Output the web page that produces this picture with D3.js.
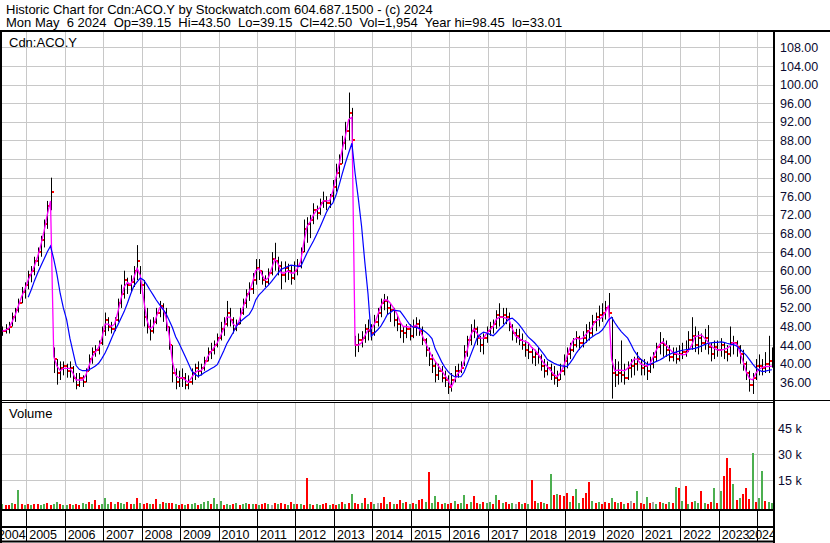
<!DOCTYPE html>
<html><head><meta charset="utf-8">
<script src="https://cdn.jsdelivr.net/npm/d3@7"></script>
<style>html,body{margin:0;padding:0;background:#fff;} svg{display:block;font-family:"Liberation Sans",Arial,sans-serif;} text.pre{white-space:pre;}</style>
</head><body><svg id="c" width="830" height="543"></svg>
<script>
// Monthly data, May 2004 .. May 2024
const lo=[46,46.5,46.5,48,49,51,53,54,
56,57.5,59,61,63,65,69,73,38,35.5,36.5,37.5,
37,37,36,34.5,35,35,36,38.5,40,41.5,42,44,
46,47,46.5,47,49,52,54,55,55.5,56.5,58,55,
48,46.5,45,46.5,48.5,50,49,47,43,36,34.5,35,
35,34.5,34.5,35.5,36.5,37,37.5,38.5,40.5,41,42,43.5,
45,46,48,48,46.5,47,48.5,50.5,52,53.5,55,57,
58,57,56.5,57,59,60,59,56,57.5,58,57,58,
59,60.5,64,66,67,70,71,72,73.5,73,73.5,75,
77,80,83,86,88,86,41.5,42.5,43.5,44.5,45,45,
46,48,50,51.5,50.5,49,48,47,45.5,44.5,45.5,45,
45.5,46,46,44,41.5,39.5,38,36,36.5,36,35,33.5,
34,36,37,38,39.5,41.5,44,45.5,44,42.5,42,44.5,
46,46.5,47.5,48,48.5,48.5,47,45,44.5,44,43,41.5,
41,40,39.5,40,38.5,37,37.5,36.5,35.5,35,36.5,37.5,
39,41,42.5,43.5,43,43.5,44.5,45,46,47,48,49,
49.5,50,32.5,35,35.5,36,35.5,36.5,37,37.5,38.5,37.5,
37.5,36.5,38,39,40.5,42,41.5,41.5,40.5,40.5,40,40.5,
41,41.5,42.5,43,42.5,42,42.5,43,42,40.5,41,41.5,
41.5,41,40.5,41.5,42,41.5,40,38.5,36.5,34,33.5,36.5,
37.5,37.5,38,38,39.15];
const hi=[48,48.5,49,51,52,54,56.5,57.5,
60,61,63,65,67.5,71,75,80,43.5,41,40.5,40.5,
40,40.5,39.5,38,38,37.5,39,42,43.5,44,45,48,
51,50,49,50,54,57,60,58.5,59,61,65.5,61,
58,52,49.5,50,52,53.5,53,52,48,44,39,38.5,
39,38,37.5,39,40,40.5,40,41.5,43.5,44.5,45,46.5,
49,50,53.5,52,50,49.5,52,54,56,57.5,59.5,62.5,
62.5,60,59,60.5,64,66,63,62,62,61.5,61,62,
62.5,65,71,71.5,72,74.5,74,75.5,77,76,76.5,79.5,
83,85,89,92,98.3,95,46,46.5,47,48.5,49.5,48.5,
50.5,52,54,55,54.5,53,52,50.5,49,48,48.5,48.5,
49.5,50,49.5,48,45.5,43.5,42,40.5,40,39.5,38.5,37.5,
38,39.5,40,40.5,44,46,48.5,49.5,48,46,46.5,48,
49,49.5,51.5,53,52,52,51,48.5,47.5,47.5,46.5,45,
44.5,43.5,43,43.5,42,41,40.5,40,39.5,38.5,40,42,
43.5,44.5,45.5,47,46,47,48.5,49,50.5,51,52.5,53,
53.5,55.2,50,41,40.5,45,40,40.5,41,41.5,42.5,41,
41,40.5,41.5,42.5,44.5,46.8,45.5,45,44,43.5,43.5,44,
44.5,45,47,50,48,47,46.5,47.5,48.3,44.5,45,45,
45.5,44.5,44,48,46,45,44,43,40.5,38.5,38,41,
42,41,42.5,46,43.5];
const cl=[47,47.5,48,50,51.5,53,55.5,57,
59,60,62,64,66.5,70,74,77,41,38,39,39.5,
38.5,39,37,35.5,37,36,38.5,41,42.5,43,44.5,47,
49.5,48,47.5,49.5,53,55,58,57,57.5,60,62,57,
50,48,47,49,51,52.5,51,48,44,38,36,37,
37,35.5,36,38,39,38.5,39,40.5,42.5,43,44,45.5,
47.5,48.5,51,49.5,47.5,48.5,51,53,55,56,58,60.5,
60,58,57.5,59.5,62.5,62,61,59,60.5,60,58.5,60,
61,64,69,70,71,73,72.5,74.5,75,74.5,76,78,
81,83,87.5,90,94,88,44,45,45.5,47.5,47,46.5,
49,51,53,53.5,52,51.5,49.5,48.5,47,46.5,47.5,46,
48,48.5,47,45,43,41,39.5,37.5,38.5,37,36.5,35,
36.5,38.5,38.5,39,42.5,45,47,47.5,45.5,44,45.5,47,
48,48.5,50.5,50,50.5,50,48,46.5,46,45,44,43,
42.5,41.5,42,41.5,39.5,38.5,39,37.5,37,36.5,38.5,40.5,
42,43,44,45.5,44.5,45.5,47,46.5,49,50,50.5,51,
52,51,38,37.5,38,37.5,37,39,39.5,40,41,39,
39.5,38.5,40,41.5,43.5,44.5,44,43,41.5,42,41,42,
42.5,43,45,46,44,45.5,44.5,45.5,43.5,42,43.5,43,
44,42.5,42,44.5,44.5,43.5,42,40,38,35.5,37,39.5,
39.5,39,40,40.5,42.5];
// short moving average (magenta), May 2004 .. May 2024
const ma1=[47,47.2,47.6,49,50.5,52.5,54.5,56,
58,59.5,61,63,65.5,68.5,72,75,41.5,39.5,38.5,39,
39,39,38,36.5,36.5,36.5,37.5,39.5,41.5,42.5,43.5,45.5,
48.5,48.5,48,48.5,51,54,56.5,57.5,57,58.5,60.5,59,
54,49.5,47.5,48,50,52,52,50,46,40.5,37.5,37,
37,36.5,36,37,38,38.5,38.5,39.5,41.5,42.5,43.5,44.5,
46,47.5,50,50,48.5,48,49.5,52,54,55.5,57.5,60,
60.5,59,58,58.5,60.5,62.5,61.5,59.5,59.5,60,59.5,59.5,
60.5,62,66,69.5,70.5,72,73,73.5,75,75,75,77,
80,83,86,89,92.5,93,44,44,44.5,46,47.2,47.5,
48.5,50.5,52.3,53.7,53.7,53,52,50.8,49,48,48,47.8,
48,48.3,47.5,46,44.5,43,41.5,40.5,39.5,38.5,37.5,36.5,
35,36.5,37.8,38.6,40.5,43,46,47.5,46.5,45.5,45.5,46.5,
47.3,48,49.5,50,50,49.8,49.5,47.5,46,45.5,45,44.8,
44.5,43.5,43,42.2,41,40,39.4,38.5,37.7,37.2,38,39.4,
41.5,43.5,45,45.5,45.3,45.5,46.3,47,48,49.2,49.5,50,
51,52.5,41,38.5,38.6,38.6,38.5,39,40,41,41,40,
39.7,39.5,40,41.5,43,44.2,44.7,44,43.2,42.5,42.2,42,
41.9,42,42.8,44,45.8,46,46.2,45.5,44.7,43.8,43.3,43,
42.9,43.1,43.3,43.8,44.6,44.2,42.5,40.5,38.2,36.8,36.5,38,
38.8,39.2,39.4,39.4,39.5];
// long moving average (blue), Jan 2005 .. May 2024
const ma2=[54.3,56,57.8,59.5,61,62.5,64,65.3,62.5,59.2,55.1,52,
49.5,45.5,42.7,39.6,38.8,38.5,38.5,38.7,39.1,39.5,40.1,41.1,
42.3,43.8,45.3,47,48.3,49.8,51.2,53,55,56.7,57.6,58.4,
58,57,55.9,54.8,53.7,52.7,51.8,50.8,49.3,47.8,45.8,44.5,
43,41.5,40.1,38.5,37.8,37.3,37.6,38.1,38.5,38.9,39.3,39.8,
41.3,42.8,44.3,45.5,46.7,48.1,48.9,49.5,50.1,50.6,51.8,53.7,
54.8,55.5,56.2,56.9,57.7,58.6,59.5,60.3,60.6,60.9,61.2,61.1,
61,60.9,62.3,63.8,65.1,66.4,67.8,69.3,70.9,72.5,73.8,74.5,
76.2,78.5,80.8,83.2,85.3,87.4,81,75.5,69.5,62,55,45.9,
46.6,47.3,48,49.2,50.5,51,51.5,51.4,51.3,50.4,49.4,48.4,
47.9,47.8,47.6,47.3,46.8,46.2,45.4,43.2,41.8,40.4,39.2,38.3,
37.6,37.2,37.2,37.2,38.2,40,41.8,43.6,45.5,46.3,46.8,46.6,
46.3,46,46.6,47.4,48,48.9,49.6,49.8,49.2,48.5,47.6,46.6,
45.7,45.1,44.5,43.7,42.8,41.9,40.9,40.5,40.1,39.8,39.6,39.5,
39.4,40.2,41.1,42.3,43.2,44,44.6,45.3,45.8,46.3,46.6,47.2,
48.2,49.4,50,48.8,47.8,46.9,46.2,45.5,44.2,42.8,41.8,41,
40.5,39.9,39.8,40.2,40.5,40.8,41.2,41.7,42,42.3,42.5,42.7,
42.9,43,43.1,43.2,43.3,43.5,43.8,44.1,44.4,44.5,44.6,44.6,
44.7,44.6,44.4,44.2,44.1,43.8,43.2,42.5,41.8,40.9,39.9,39.1,
38.6,38.3,38.4,38.6,38.7];
// volume (shares), May 2004 .. May 2024
const vol=[1500,1000,800,1800,1200,9400,1100,900,
1300,800,1600,1200,700,1400,2100,1000,1500,2300,1200,900,
1000,1300,800,1500,900,1700,1100,2200,1400,3600,1000,1500,
4600,1600,2200,1200,2500,1800,1300,2400,1500,1100,4600,1900,
1300,2000,1100,1500,4300,1200,2600,1800,2000,2000,1400,1000,
1600,900,1300,1100,1800,800,1500,2200,3100,1200,4600,1400,
3300,1000,1500,900,1300,1700,800,1200,1900,1400,1100,1600,
1000,1500,2000,1200,900,1800,1300,2100,1400,1000,2500,1200,
1100,1600,900,16200,1300,1000,1500,800,1200,1700,900,1300,
1000,1400,2200,1600,1900,7100,2000,1300,1700,4600,1500,2400,
1200,1800,2100,5200,1400,2600,1600,1100,3600,1900,2300,1500,
2000,1300,3500,4000,2200,19600,1800,5700,2500,1600,2100,1400,
1800,3200,1300,2000,6700,1500,2400,6200,1900,1200,2600,1700,
2300,1400,6700,3600,1800,2500,1100,2000,1600,2400,1300,1900,
1500,15200,3000,1800,2600,2000,1400,18600,6300,7200,6800,6000,
7500,2400,6200,10000,2000,4600,7900,14000,3100,1800,2500,1600,
2200,1900,4600,2700,1800,2300,1500,2000,3300,1700,8900,2100,
1400,5200,2000,2500,1600,2200,1800,1300,2400,1900,11000,10500,
2800,11800,1600,2400,3000,1800,8900,2100,1500,2600,10500,2000,
8900,17600,27700,22000,13000,3500,5000,7000,10500,4000,30900,2500,
4600,20500,3000,2400,1900];
// u = up, d = down, n = unchanged
const volDir=("uddududu"+
"dudduudduudu"+"ududduududdu"+"uududuuddudu"+"dduddududdud"+"duduuduuuduu"+
"uduududuudud"+"uddunduddudu"+"dudduduuddud"+"dudududdudud"+"unddududdudu"+
"dudduduuddud"+"duduududdudu"+"udududdundud"+"uddududududd"+"duduudddudud"+
"ddudududndud"+"dudnudududud"+"ududuududdud"+"udddududddud"+"uuduu").split("");
const priceTicks=d3.range(36,109,4);
const volTicks=[15000,30000,45000];
const years=d3.range(2004,2025);
const header1="Historic Chart for Cdn:ACO.Y by Stockwatch.com 604.687.1500 - (c) 2024";
const header2="Mon May  6 2024  Op=39.15  Hi=43.50  Lo=39.15  Cl=42.50  Vol=1,954  Year hi=98.45  lo=33.01";
const symbol="Cdn:ACO.Y";

const dates=cl.map((_,i)=>new Date(2004,4+i,15));
const dates2=ma2.map((_,i)=>new Date(2005,i,15));

const svg=d3.select("#c");
svg.append("rect").attr("width",830).attr("height",543).attr("fill","#fff");

const x=d3.scaleTime().domain([new Date(2005,0,1),new Date(2024,0,1)]).range([26.7,757.7]);
const yP=d3.scaleLinear().domain([32.2,111.1]).range([400,33]);
const yV=d3.scaleLinear().domain([0,15000]).range([506.3,480.3]);
const L=2, R=773;
const grid="#c8c8c8";

const defs=svg.append("defs");
defs.append("clipPath").attr("id","cp").append("rect").attr("x",L).attr("y",32).attr("width",R-L).attr("height",368);
defs.append("clipPath").attr("id","cv").append("rect").attr("x",L).attr("y",403).attr("width",R-L).attr("height",106);
defs.append("clipPath").attr("id","cx").append("rect").attr("x",0).attr("y",511).attr("width",R).attr("height",30);

const yb=years.slice(1).map(y=>Math.floor(x(new Date(y,0,1)))+0.5);

// grid - price
const gp=svg.append("g");
priceTicks.forEach(t=>{const yy=Math.round(yP(t))+0.5;
  gp.append("line").attr("x1",L).attr("x2",R).attr("y1",yy).attr("y2",yy).attr("stroke",grid);});
yb.forEach(xx=>gp.append("line").attr("x1",xx).attr("x2",xx).attr("y1",32).attr("y2",400).attr("stroke",grid));
// grid - volume
const gv=svg.append("g");
volTicks.forEach(t=>{const yy=Math.round(yV(t))+0.5;
  gv.append("line").attr("x1",L).attr("x2",R).attr("y1",yy).attr("y2",yy).attr("stroke",grid);});
yb.forEach(xx=>gv.append("line").attr("x1",xx).attr("x2",xx).attr("y1",403).attr("y2",509).attr("stroke",grid));

// price bars
const pb=svg.append("g").attr("clip-path","url(#cp)");
cl.forEach((c,i)=>{
  const xx=Math.round(x(dates[i]));
  pb.append("rect").attr("x",xx).attr("y",yP(hi[i])).attr("width",1).attr("height",yP(lo[i])-yP(hi[i])).attr("fill","#000");
});
cl.forEach((c,i)=>{
  const xx=Math.round(x(dates[i]));
  pb.append("rect").attr("x",xx+1).attr("y",Math.round(yP(c))-1).attr("width",2).attr("height",2).attr("fill","#ff0000");
  if(i>0){const o=cl[i-1]; if(o<=hi[i]+2 && o>=lo[i]-2)
    pb.append("rect").attr("x",xx-2).attr("y",Math.round(yP(o))-1).attr("width",2).attr("height",2).attr("fill","#ff0000");}
});
const line1=d3.line().x((d,i)=>x(dates[i])).y(d=>yP(d));
pb.append("path").attr("d",line1(ma1)).attr("fill","none").attr("stroke","#ff00ff").attr("stroke-width",1.3);
const line2=d3.line().x((d,i)=>x(dates2[i])).y(d=>yP(d));
pb.append("path").attr("d",line2(ma2)).attr("fill","none").attr("stroke","#0000ff").attr("stroke-width",1.2);

// volume bars
const vb=svg.append("g").attr("clip-path","url(#cv)");
const vcol={u:"#4caf50",d:"#ff0000",n:"#a8a8a8"};
vol.forEach((v,i)=>{
  const xx=Math.round(x(dates[i]));
  const top=Math.round(yV(v));
  vb.append("rect").attr("x",xx-1).attr("y",top).attr("width",2).attr("height",509-top).attr("fill",vcol[volDir[i]]||"#4caf50");
});

// frame lines
const blk=(x1,y1,x2,y2,w)=>svg.append("line").attr("x1",x1).attr("y1",y1).attr("x2",x2).attr("y2",y2).attr("stroke","#000").attr("stroke-width",w);
blk(0,31,830,31,2);
blk(1,30,1,543,2);
blk(774,30,774,543,2);
blk(0,400.5,830,400.5,1);
blk(0,402.5,774,402.5,1);
blk(0,510,774,510,2);
blk(0,527,774,527,2);
blk(0,541.5,774,541.5,2);
yb.forEach(xx=>blk(xx,511,xx,541,1));

// header
const ht=svg.append("g").attr("font-size","13px").attr("fill","#000");
ht.append("text").attr("class","pre").attr("x",6).attr("y",13.5).text(header1);
ht.append("text").attr("class","pre").attr("x",6).attr("y",27).text(header2);
svg.append("text").attr("x",9).attr("y",46.5).attr("font-size","13px").text(symbol);
svg.append("text").attr("x",9).attr("y",418).attr("font-size","13px").text("Volume");

// axes
const axP=svg.append("g").attr("transform","translate(780,0)")
  .call(d3.axisRight(yP).tickValues(priceTicks).tickFormat(d=>d.toFixed(2)).tickSize(0).tickPadding(0));
axP.select(".domain").remove();
axP.selectAll("text").attr("font-size","12.5px").attr("fill","#0a0a30").attr("font-family","Liberation Sans, Arial, sans-serif");
const axV=svg.append("g").attr("transform","translate(778,0)")
  .call(d3.axisRight(yV).tickValues(volTicks).tickFormat(d=>(d/1000)+" k").tickSize(0).tickPadding(0));
axV.select(".domain").remove();
axV.selectAll("text").attr("font-size","12.5px").attr("fill","#0a0a30").attr("font-family","Liberation Sans, Arial, sans-serif");

// year labels
const yl=svg.append("g").attr("clip-path","url(#cx)").attr("font-size","12.5px").attr("fill","#000");
years.forEach(y=>{
  const b=x(new Date(y,0,1));
  if(y===2004) yl.append("text").attr("x",x(new Date(2005,0,1))-1).attr("y",538.5).attr("text-anchor","end").text(y);
  else if(y===2024) yl.append("text").attr("x",776).attr("y",538.5).attr("text-anchor","end").text(y);
  else yl.append("text").attr("x",b+2.5).attr("y",538.5).text(y);
});
</script></body></html>
